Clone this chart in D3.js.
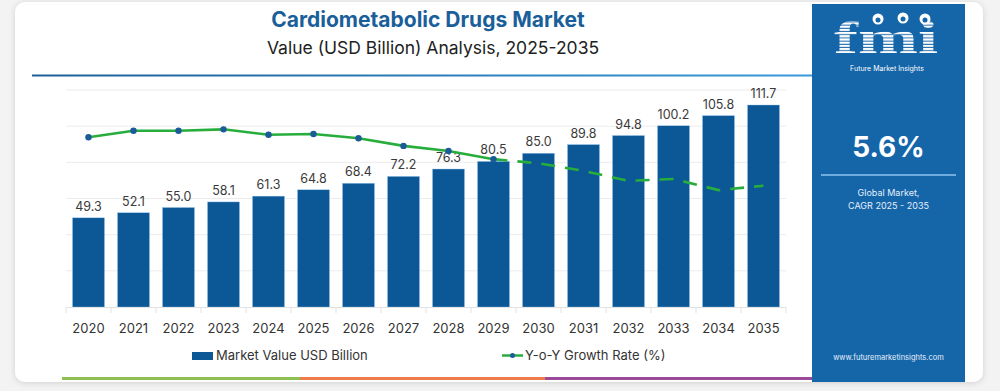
<!DOCTYPE html>
<html><head><meta charset="utf-8">
<script src="https://cdn.jsdelivr.net/npm/d3@7"></script>
<style>
html,body{margin:0;padding:0;background:#f3f3f3;}
svg{display:block;font-family:"Inter","Noto Sans",sans-serif;}
</style></head>
<body>
<svg id="c" width="1000" height="391"></svg>
<script>
const years = ["2020","2021","2022","2023","2024","2025","2026","2027","2028","2029","2030","2031","2032","2033","2034","2035"];
const marketValue = [49.3,52.1,55.0,58.1,61.3,64.8,68.4,72.2,76.3,80.5,85.0,89.8,94.8,100.2,105.8,111.7];
const growthRate = [6.26,6.50,6.50,6.55,6.35,6.38,6.22,5.94,5.75,5.45,5.30,5.02,4.65,4.72,4.31,4.47];
const yTicks = [0,20,40,60,80,100,120];
const title = "Cardiometabolic Drugs Market";
const subtitle = "Value (USD Billion) Analysis, 2025-2035";
const cagr = "5.6%";

const svg = d3.select("#c");
const defs = svg.append("defs");
const f = defs.append("filter").attr("id","sh").attr("x","-5%").attr("y","-5%").attr("width","110%").attr("height","115%");
f.append("feDropShadow").attr("dx",0).attr("dy",1).attr("stdDeviation",3).attr("flood-color","#000").attr("flood-opacity",0.15);
const lg = defs.append("linearGradient").attr("id","hl");
lg.append("stop").attr("offset","0%").attr("stop-color","#1d5f98");
lg.append("stop").attr("offset","100%").attr("stop-color","#3a9ad9");

// card
svg.append("rect").attr("x",15).attr("y",2).attr("width",968).attr("height",380).attr("rx",10)
  .attr("fill","#fff").attr("filter","url(#sh)");

// header
svg.append("text").attr("x",428).attr("y",27).attr("text-anchor","middle")
  .attr("font-size",21).attr("font-weight",700).attr("fill","#1a5e9a").text(title);
svg.append("text").attr("x",433).attr("y",54).attr("text-anchor","middle")
  .attr("font-size",17.5).attr("fill","#222").text(subtitle);
svg.append("rect").attr("x",32).attr("y",74.5).attr("width",781).attr("height",2).attr("fill","url(#hl)");

// scales
const x = d3.scaleBand().domain(years).range([66,786]).paddingInner(0.29).paddingOuter(0.145);
const y = d3.scaleLinear().domain([0,120]).range([307,90]);
const y2 = d3.scaleLinear().domain([0,8]).range([307,90]);

// grid
svg.append("g").selectAll("line").data(yTicks.slice(1)).join("line")
  .attr("x1",66).attr("x2",786).attr("y1",d=>y(d)).attr("y2",d=>y(d))
  .attr("stroke","#ececec").attr("stroke-width",1);

// bars
svg.append("g").selectAll("rect").data(marketValue).join("rect")
  .attr("x",(d,i)=>x(years[i])).attr("width",x.bandwidth())
  .attr("y",d=>y(d)).attr("height",d=>y(0)-y(d))
  .attr("fill","#0c5896").attr("stroke","#8cc0ea").attr("stroke-width",0.4);

// value labels
svg.append("g").selectAll("text").data(marketValue).join("text")
  .attr("x",(d,i)=>x(years[i])+x.bandwidth()/2).attr("y",d=>y(d)-7)
  .attr("text-anchor","middle").attr("font-size",12.5).attr("fill","#3a3a3a")
  .text(d=>d.toFixed(1));

// x axis
const xa = svg.append("g");
xa.append("line").attr("x1",66).attr("x2",786).attr("y1",307.5).attr("y2",307.5).attr("stroke","#e2e2e2");
const bounds = years.map((d,i)=>66+i*45).concat([786]);
xa.selectAll("line.t").data(bounds).join("line").attr("class","t")
  .attr("x1",d=>d).attr("x2",d=>d).attr("y1",307.5).attr("y2",313).attr("stroke","#e2e2e2");
xa.selectAll("text").data(years).join("text")
  .attr("x",d=>x(d)+x.bandwidth()/2).attr("y",333).attr("text-anchor","middle")
  .attr("font-size",13).attr("fill","#333").text(d=>d);

// growth line
const pts = growthRate.map((v,i)=>[x(years[i])+x.bandwidth()/2, y2(v)]);
const line = d3.line();
const splitIdx = 9;
svg.append("path").attr("d",line(pts.slice(0,splitIdx+1))).attr("fill","none")
  .attr("stroke","#27ad3c").attr("stroke-width",2.6);
svg.append("path").attr("d",line(pts.slice(splitIdx))).attr("fill","none")
  .attr("stroke","#27ad3c").attr("stroke-width",2.6).attr("stroke-dasharray","14,10");
svg.append("g").selectAll("circle").data(pts.slice(0,splitIdx+1)).join("circle")
  .attr("cx",d=>d[0]).attr("cy",d=>d[1]).attr("r",3.2).attr("fill","#1b5c98");

// legend
svg.append("rect").attr("x",192).attr("y",352).attr("width",21).attr("height",8).attr("fill","#0c5896");
svg.append("text").attr("x",216).attr("y",360).attr("font-size",13).attr("fill","#333").text("Market Value USD Billion");
svg.append("line").attr("x1",502).attr("x2",523).attr("y1",355.5).attr("y2",355.5).attr("stroke","#27ad3c").attr("stroke-width",2.5);
svg.append("circle").attr("cx",512.5).attr("cy",355.5).attr("r",2.5).attr("fill","#1b5c98");
svg.append("text").attr("x",525).attr("y",360).attr("font-size",13).attr("fill","#333").text("Y-o-Y Growth Rate (%)");

// bottom stripe
svg.append("rect").attr("x",62).attr("y",377).attr("width",238).attr("height",3).attr("fill","#8cc152");
svg.append("rect").attr("x",300).attr("y",377).attr("width",245).attr("height",3).attr("fill","#ee7b4c");
svg.append("rect").attr("x",545).attr("y",377).attr("width",267).attr("height",3).attr("fill","#9b4a9a");

// right panel
const px = 812, pw = 153;
svg.append("rect").attr("x",px).attr("y",4).attr("width",pw).attr("height",378).attr("fill","#1565a9");
const cx = px+pw/2;
// logo
const lp = defs.append("pattern").attr("id","stripe").attr("patternUnits","userSpaceOnUse").attr("width",4).attr("height",3.2);
lp.append("rect").attr("width",4).attr("height",2.2).attr("fill","#fff");
svg.append("text").attr("x",886).attr("y",53).attr("text-anchor","middle")
  .attr("font-family","Liberation Serif, serif").attr("font-weight",700).attr("font-size",46)
  .attr("textLength",104).attr("lengthAdjust","spacingAndGlyphs")
  .attr("fill","url(#stripe)").text("fmi");
[[878,19],[903,18],[925,19]].forEach(p=>{
  svg.append("circle").attr("cx",p[0]).attr("cy",p[1]).attr("r",5.5).attr("fill","#fff");
  svg.append("circle").attr("cx",p[0]).attr("cy",p[1]+1).attr("r",2.5).attr("fill","#1565a9");
});
svg.append("text").attr("x",887).attr("y",71).attr("text-anchor","middle")
  .attr("font-size",7).attr("fill","#fff").text("Future Market Insights");
svg.append("text").attr("x",cx).attr("y",157).attr("text-anchor","middle")
  .attr("font-size",28).attr("font-weight",700).attr("fill","#fff").text(cagr);
svg.append("line").attr("x1",821).attr("x2",956).attr("y1",175).attr("y2",175).attr("stroke","#8cc6ef").attr("stroke-width",1.5);
svg.append("text").attr("x",cx).attr("y",196).attr("text-anchor","middle")
  .attr("font-size",9).attr("fill","#e6f0fa").text("Global Market,");
svg.append("text").attr("x",cx).attr("y",209).attr("text-anchor","middle")
  .attr("font-size",9).attr("fill","#e6f0fa").text("CAGR 2025 - 2035");
svg.append("text").attr("x",cx).attr("y",360).attr("text-anchor","middle")
  .attr("font-size",7.5).attr("fill","#e6f0fa").text("www.futuremarketinsights.com");
</script>
</body></html>
